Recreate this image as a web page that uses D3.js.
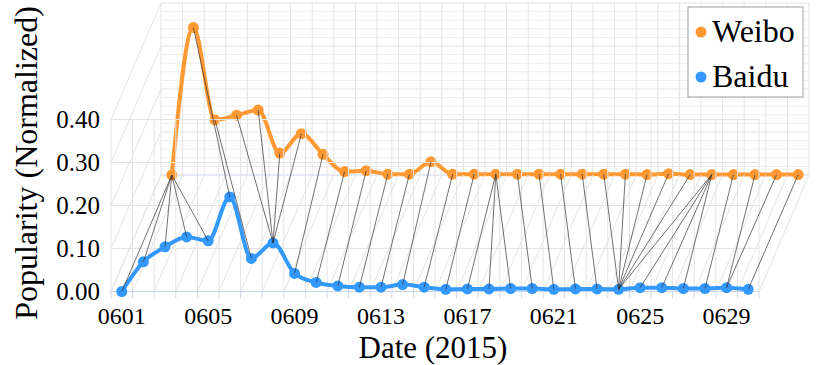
<!DOCTYPE html>
<html>
<head>
    <meta charset="utf-8" />
    <title>Weibo vs Baidu</title>
    <script src="https://d3js.org/d3.v7.min.js"></script>
    <style>
        body { margin: 0; background: #fff; }
        text { font-family: "Liberation Serif", "Times New Roman", serif; fill: #000; }
    </style>
</head>
<body>
    <svg id="chart" width="830" height="365"></svg>

    <script>
        // days of June 2015
        var dates = ["0601", "0602", "0603", "0604", "0605", "0606", "0607", "0608", "0609", "0610",
            "0611", "0612", "0613", "0614", "0615", "0616", "0617", "0618", "0619", "0620",
            "0621", "0622", "0623", "0624", "0625", "0626", "0627", "0628", "0629", "0630"];
        var dateTicks = ["0601", "0605", "0609", "0613", "0617", "0621", "0625", "0629"];
        var valueTicks = [0, 0.1, 0.2, 0.3, 0.4];
        var minorTicks = [0.02, 0.04, 0.06, 0.08, 0.12, 0.14, 0.16, 0.18, 0.22, 0.24, 0.26, 0.28, 0.32, 0.34, 0.36, 0.38];

        var weibo = [0.000, 0.343, 0.128, 0.139, 0.151, 0.051, 0.096, 0.048, 0.008, 0.010,
            0.002, 0.002, 0.031, 0.002, 0.002, 0.002, 0.002, 0.002, 0.002, 0.002,
            0.002, 0.002, 0.001, 0.003, 0.001, 0.001, 0.001, 0.001, 0.001, 0.001];
        var baidu = [0.000, 0.069, 0.104, 0.127, 0.118, 0.220, 0.077, 0.113, 0.042, 0.021,
            0.013, 0.010, 0.010, 0.016, 0.010, 0.005, 0.006, 0.006, 0.007, 0.007,
            0.005, 0.006, 0.006, 0.005, 0.009, 0.009, 0.007, 0.007, 0.009, 0.005];

        // warping path: [baidu day index, weibo day index]
        var alignment = [[0, 0], [1, 0], [2, 0], [3, 0], [4, 0], [5, 1], [6, 2], [7, 3], [7, 4], [7, 5],
            [7, 6], [8, 7], [9, 8], [10, 9], [11, 10], [12, 11], [13, 12], [14, 13], [15, 14], [16, 15],
            [17, 15], [18, 15], [19, 16], [20, 17], [21, 18], [22, 19], [23, 20], [23, 21], [23, 22], [23, 23],
            [23, 24], [23, 25], [24, 25], [25, 25], [26, 25], [27, 26], [28, 27], [28, 28], [29, 29]];

        var seriesNames = ["Weibo", "Baidu"];
        var colors = { Weibo: "#ff9933", Baidu: "#3399ff" };

        var svg = d3.select("#chart");

        var x = d3.scaleBand().domain(dates).range([111, 759]);
        var y = d3.scaleLinear().domain([0, 0.4]).range([291.5, 119.5]);
        var bw = x.bandwidth();
        var dx = 50, dy = -116.5;   // depth offset of back wall
        var edges = dates.map(function (d) { return x(d); }).concat([x.range()[1]]);
        var cx = function (i) { return x(dates[i]) + bw / 2; };

        var gridColor = "#e4e4e4";
        var axisColor = "#ccd6eb";

        // back wall
        var back = svg.append("g").attr("transform", "translate(" + dx + "," + dy + ")");
        back.selectAll(".minor").data(minorTicks).enter().append("line")
            .attr("x1", x.range()[0]).attr("x2", x.range()[1])
            .attr("y1", y).attr("y2", y)
            .attr("stroke", "#eeeeee").attr("stroke-width", 1);
        back.selectAll(".vgrid").data(edges).enter().append("line")
            .attr("x1", function (d) { return d; }).attr("x2", function (d) { return d; })
            .attr("y1", y(0)).attr("y2", y(0.4))
            .attr("stroke", gridColor).attr("stroke-width", 1);
        back.selectAll(".hgrid").data(valueTicks).enter().append("line")
            .attr("x1", x.range()[0]).attr("x2", x.range()[1])
            .attr("y1", y).attr("y2", y)
            .attr("stroke", function (d) { return d === 0 ? axisColor : gridColor; })
            .attr("stroke-width", 1);

        // floor and left wall depth lines
        svg.selectAll(".floor").data(edges).enter().append("line")
            .attr("x1", function (d) { return d; }).attr("y1", y(0))
            .attr("x2", function (d) { return d + dx; }).attr("y2", y(0) + dy)
            .attr("stroke", gridColor).attr("stroke-width", 1);
        svg.selectAll(".side").data(valueTicks).enter().append("line")
            .attr("x1", x.range()[0]).attr("y1", y)
            .attr("x2", x.range()[0] + dx).attr("y2", function (d) { return y(d) + dy; })
            .attr("stroke", gridColor).attr("stroke-width", 1);

        // front wall
        svg.selectAll(".fvgrid").data(edges).enter().append("line")
            .attr("x1", function (d) { return d; }).attr("x2", function (d) { return d; })
            .attr("y1", y(0)).attr("y2", y(0.4))
            .attr("stroke", gridColor).attr("stroke-width", 1);
        svg.selectAll(".fhgrid").data(valueTicks).enter().append("line")
            .attr("x1", x.range()[0]).attr("x2", x.range()[1])
            .attr("y1", y).attr("y2", y)
            .attr("stroke", function (d) { return d === 0 ? axisColor : gridColor; })
            .attr("stroke-width", 1);
        svg.selectAll(".xtick").data(edges).enter().append("line")
            .attr("x1", function (d) { return d; }).attr("x2", function (d) { return d; })
            .attr("y1", y(0)).attr("y2", y(0) + 7)
            .attr("stroke", axisColor).attr("stroke-width", 1);

        // axes labels
        var xAxis = svg.append("g").attr("transform", "translate(0," + y(0) + ")")
            .call(d3.axisBottom(x).tickValues(dateTicks).tickSize(0).tickPadding(15));
        xAxis.select(".domain").remove();
        xAxis.selectAll("text").style("font-size", "24px").style("font-family", "Liberation Serif");

        var yAxis = svg.append("g").attr("transform", "translate(" + x.range()[0] + ",0)")
            .call(d3.axisLeft(y).tickValues(valueTicks).tickFormat(d3.format(".2f")).tickSize(0).tickPadding(11));
        yAxis.select(".domain").remove();
        yAxis.selectAll("text").style("font-size", "25px").style("font-family", "Liberation Serif");

        svg.append("text")
            .attr("x", 433).attr("y", 358)
            .attr("text-anchor", "middle")
            .style("font-size", "31px")
            .text("Date (2015)");

        svg.append("text")
            .attr("transform", "translate(37,163) rotate(-90)")
            .attr("text-anchor", "middle")
            .style("font-size", "32px")
            .text("Popularity (Normalized)");

        // series
        var line = d3.line()
            .x(function (d, i) { return cx(i); })
            .y(function (d) { return y(d); })
            .curve(d3.curveMonotoneX);

        back.append("path").datum(weibo)
            .attr("d", line)
            .attr("fill", "none").attr("stroke", colors.Weibo).attr("stroke-width", 4);
        back.selectAll(".wdot").data(weibo).enter().append("circle")
            .attr("cx", function (d, i) { return cx(i); })
            .attr("cy", function (d) { return y(d); })
            .attr("r", 5.5).attr("fill", colors.Weibo);

        svg.append("path").datum(baidu)
            .attr("d", line)
            .attr("fill", "none").attr("stroke", colors.Baidu).attr("stroke-width", 4);
        svg.selectAll(".bdot").data(baidu).enter().append("circle")
            .attr("cx", function (d, i) { return cx(i); })
            .attr("cy", function (d) { return y(d); })
            .attr("r", 5.5).attr("fill", colors.Baidu);

        // alignment links
        svg.selectAll(".link").data(alignment).enter().append("line")
            .attr("x1", function (d) { return cx(d[0]); })
            .attr("y1", function (d) { return y(baidu[d[0]]); })
            .attr("x2", function (d) { return cx(d[1]) + dx; })
            .attr("y2", function (d) { return y(weibo[d[1]]) + dy; })
            .attr("stroke", "#333").attr("stroke-width", 0.7);

        // legend
        var legend = svg.append("g").attr("transform", "translate(688,7)");
        legend.append("rect")
            .attr("width", 115).attr("height", 90)
            .attr("fill", "#fff").attr("stroke", "#a0a0a0").attr("stroke-width", 1);
        var items = legend.selectAll(".item").data(seriesNames).enter().append("g")
            .attr("transform", function (d, i) { return "translate(0," + (25 + i * 45) + ")"; });
        items.append("circle").attr("cx", 13).attr("cy", 0).attr("r", 5.5)
            .attr("fill", function (d) { return colors[d]; });
        items.append("text").attr("x", 24).attr("y", 10)
            .style("font-size", "32px")
            .text(function (d) { return d; });
    </script>
</body>
</html>
